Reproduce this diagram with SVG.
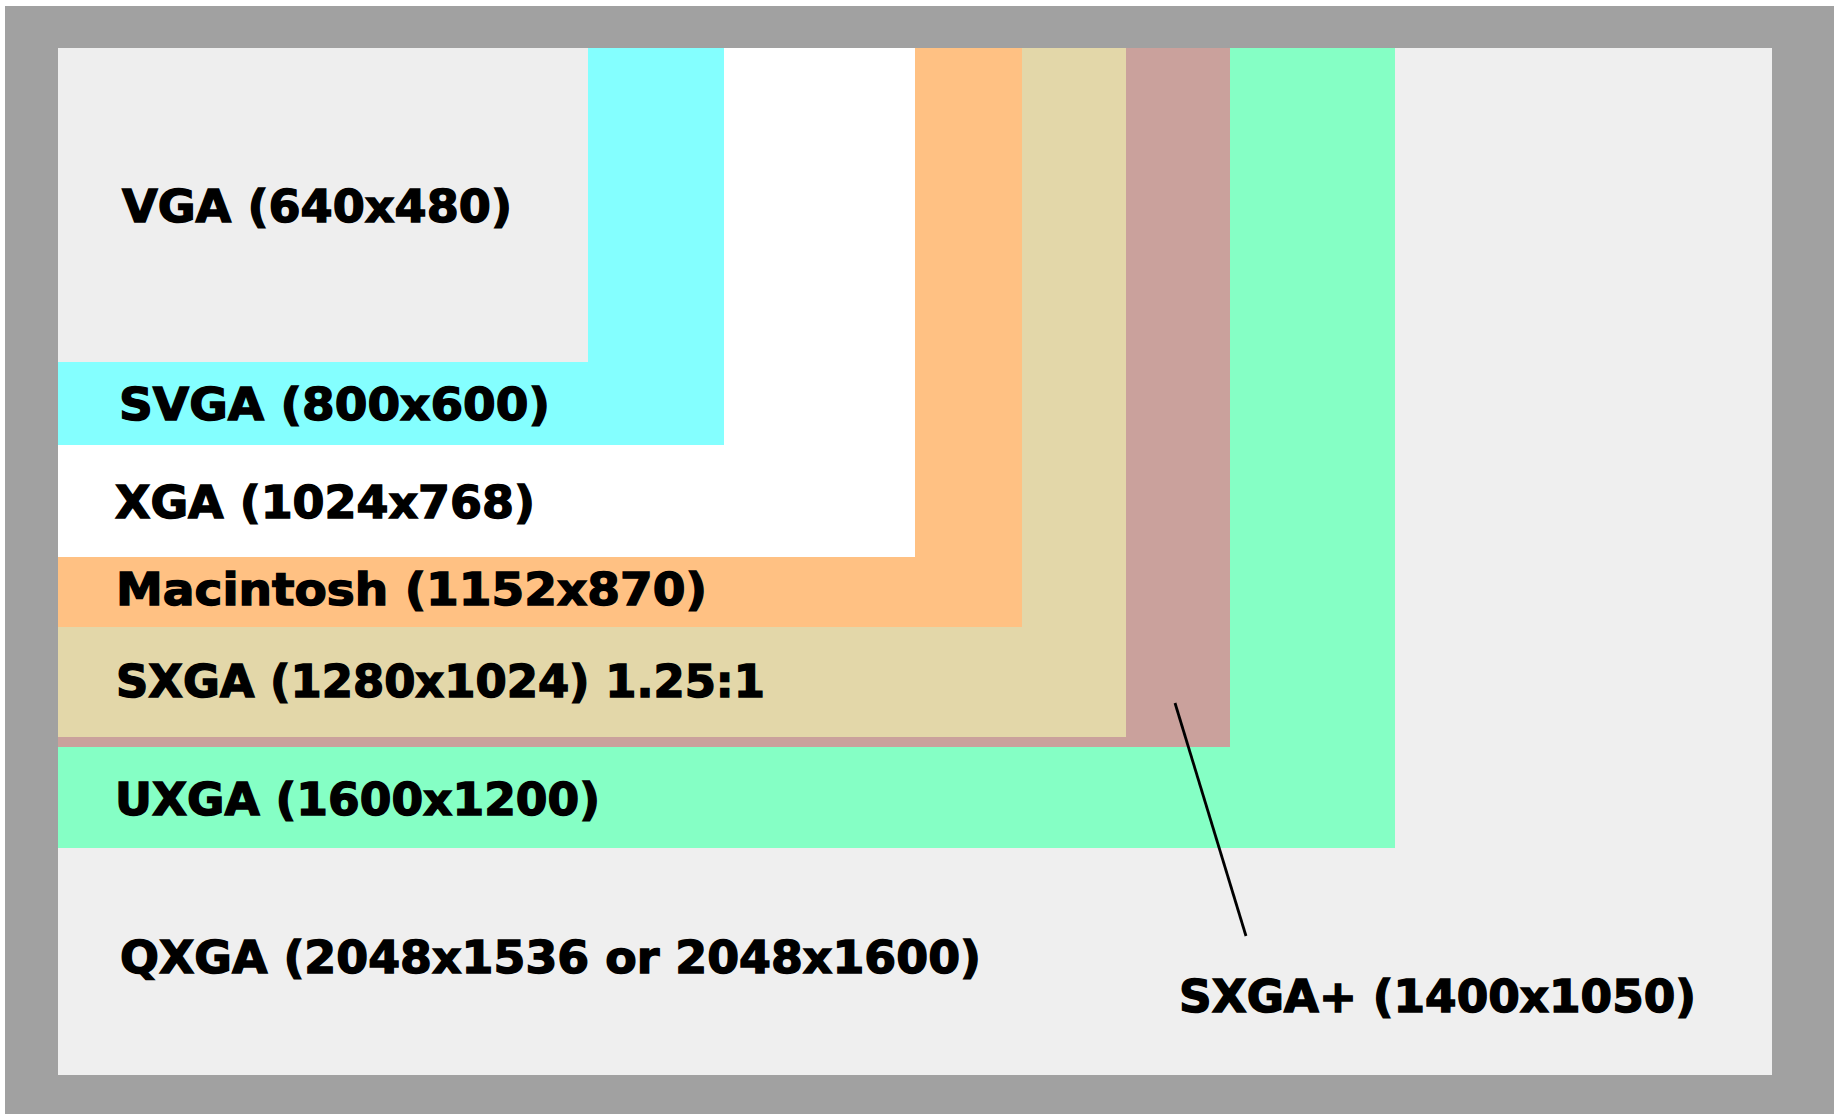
<svg xmlns="http://www.w3.org/2000/svg" width="1841" height="1114" viewBox="0 0 1841 1114">
<style>
.lbl{font-family:"DejaVu Sans","Liberation Sans",sans-serif;font-weight:bold;font-size:45px;fill:#000;stroke:#000;stroke-width:1.4px}
</style>
<rect x="0" y="0" width="1841" height="1114" fill="#ffffff"/>
<rect x="5" y="6" width="1829" height="1108" fill="#a1a1a1"/>
<g id="qxga">
<rect x="58" y="48" width="1714" height="1027" fill="#efefef"/>
<text class="lbl" x="120" y="973" textLength="861" lengthAdjust="spacingAndGlyphs">QXGA (2048x1536 or 2048x1600)</text>
</g>
<g id="uxga">
<rect x="58" y="48" width="1337" height="800" fill="#85ffc5"/>
<text class="lbl" x="115" y="815" textLength="485" lengthAdjust="spacingAndGlyphs">UXGA (1600x1200)</text>
</g>
<g id="sxgaplus">
<rect x="58" y="48" width="1172" height="699" fill="#caa19c"/>
</g>
<g id="sxga">
<rect x="58" y="48" width="1068" height="689" fill="#e3d7a9"/>
<text class="lbl" x="116" y="697" textLength="649" lengthAdjust="spacingAndGlyphs">SXGA (1280x1024) 1.25:1</text>
</g>
<g id="mac">
<rect x="58" y="48" width="964" height="579" fill="#ffc183"/>
<text class="lbl" x="116" y="605" textLength="591" lengthAdjust="spacingAndGlyphs">Macintosh (1152x870)</text>
</g>
<g id="xga">
<rect x="58" y="48" width="857" height="509" fill="#ffffff"/>
<text class="lbl" x="115" y="518" textLength="420" lengthAdjust="spacingAndGlyphs">XGA (1024x768)</text>
</g>
<g id="svga">
<rect x="58" y="48" width="666" height="397" fill="#84ffff"/>
<text class="lbl" x="119" y="420" textLength="431" lengthAdjust="spacingAndGlyphs">SVGA (800x600)</text>
</g>
<g id="vga">
<rect x="58" y="48" width="530" height="314" fill="#eeeeee"/>
<text class="lbl" x="122" y="222" textLength="390" lengthAdjust="spacingAndGlyphs">VGA (640x480)</text>
</g>
<g id="connectors">
<line x1="1175" y1="703" x2="1246" y2="936" stroke="#000" stroke-width="2.8"/>
</g>
<g id="sxgaplus-label">
<text class="lbl" x="1179" y="1012" textLength="517" lengthAdjust="spacingAndGlyphs">SXGA+ (1400x1050)</text>
</g>
</svg>
